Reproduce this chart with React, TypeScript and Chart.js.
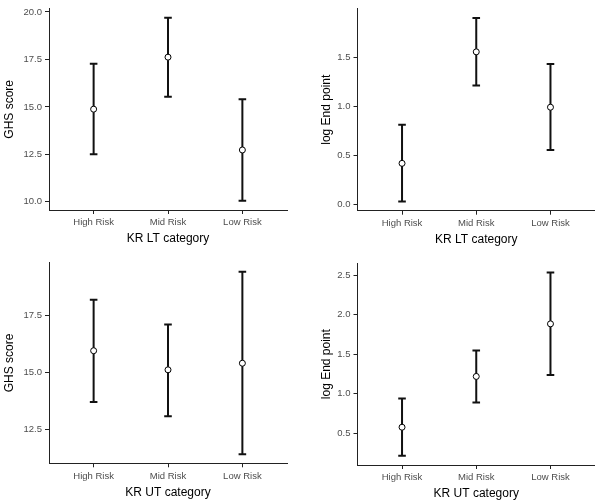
import React, { useEffect, useRef } from "react";
import { Chart, registerables } from "chart.js";

Chart.register(...registerables);

const categories = ["High Risk", "Mid Risk", "Low Risk"];

const ltGhsMean = [14.88, 17.62, 12.73];
const ltGhsLower = [12.5, 15.53, 10.05];
const ltGhsUpper = [17.27, 19.69, 15.4];
const ltGhsTicks = [10, 12.5, 15, 17.5, 20];

const ltEndMean = [0.418, 1.56, 0.993];
const ltEndLower = [0.027, 1.216, 0.555];
const ltEndUpper = [0.814, 1.908, 1.436];
const ltEndTicks = [0, 0.5, 1, 1.5];

const utGhsMean = [15.96, 15.12, 15.41];
const utGhsLower = [13.7, 13.08, 11.41];
const utGhsUpper = [18.2, 17.11, 19.43];
const utGhsTicks = [12.5, 15, 17.5];

const utEndMean = [0.576, 1.218, 1.883];
const utEndLower = [0.214, 0.89, 1.236];
const utEndUpper = [0.94, 1.545, 2.533];
const utEndTicks = [0.5, 1, 1.5, 2, 2.5];

const FONT = "'Liberation Sans', Arial, Helvetica, sans-serif";

type PanelProps = {
  mean: number[];
  lower: number[];
  upper: number[];
  ticks: number[];
  yTitle: string;
  xTitle: string;
  left: number;
  top: number;
  width: number;
  height: number;
  padLeft: number;
  padTop: number;
  padRight: number;
  yWidth: number;
  xHeight: number;
  xTitlePad: number;
};

function Panel(p: PanelProps) {
  const ref = useRef<HTMLCanvasElement | null>(null);
  useEffect(() => {
    if (!ref.current) return;
    const lo = Math.min(...p.lower);
    const hi = Math.max(...p.upper);
    const r = hi - lo;
    const yMin = lo - 0.05 * r;
    const yMax = hi + 0.05 * r;

    const errorBars = {
      id: "errorBars",
      beforeDatasetsDraw(chart: any) {
        const { ctx, scales } = chart;
        const x = scales.x;
        const y = scales.y;
        ctx.save();
        ctx.strokeStyle = "#111111";
        ctx.lineWidth = 2;
        ctx.lineCap = "butt";
        p.mean.forEach((_, i) => {
          const px = x.getPixelForValue(i + 1);
          const yl = y.getPixelForValue(p.lower[i]);
          const yu = y.getPixelForValue(p.upper[i]);
          ctx.beginPath();
          ctx.moveTo(px, yl);
          ctx.lineTo(px, yu);
          ctx.moveTo(px - 3.8, yl);
          ctx.lineTo(px + 3.8, yl);
          ctx.moveTo(px - 3.8, yu);
          ctx.lineTo(px + 3.8, yu);
          ctx.stroke();
        });
        ctx.restore();
      },
    };

    const chart = new Chart(ref.current, {
      type: "scatter",
      data: {
        datasets: [
          {
            data: p.mean.map((m, i) => ({ x: i + 1, y: m })),
            pointRadius: 3,
            pointBorderWidth: 1,
            pointBackgroundColor: "#ffffff",
            pointBorderColor: "#000000",
          },
        ],
      },
      options: {
        animation: false,
        responsive: false,
        devicePixelRatio: 1,
        layout: {
          padding: { left: p.padLeft, top: p.padTop, right: p.padRight, bottom: 0 },
        },
        plugins: {
          legend: { display: false },
          tooltip: { enabled: false },
        },
        scales: {
          x: {
            type: "linear",
            min: 0.4,
            max: 3.6,
            afterBuildTicks: (axis: any) => {
              axis.ticks = categories.map((_, i) => ({ value: i + 1 }));
            },
            afterFit: (s: any) => {
              s.height = p.xHeight;
            },
            ticks: {
              callback: (v: any) => categories[Number(v) - 1] ?? "",
              font: { family: FONT, size: 9.5 },
              color: "#4d4d4d",
              padding: 3,
              maxRotation: 0,
              autoSkip: false,
            },
            grid: {
              display: true,
              drawOnChartArea: false,
              drawTicks: true,
              tickLength: 4,
              color: "#222222",
              lineWidth: 1,
            },
            border: { display: true, color: "#222222", width: 1 },
            title: {
              display: true,
              text: p.xTitle,
              font: { family: FONT, size: 12 },
              color: "#000000",
              padding: { top: 0, bottom: p.xTitlePad },
            },
          },
          y: {
            type: "linear",
            min: yMin,
            max: yMax,
            afterBuildTicks: (axis: any) => {
              axis.ticks = p.ticks.map((v) => ({ value: v }));
            },
            afterFit: (s: any) => {
              s.width = p.yWidth;
            },
            ticks: {
              callback: (v: any) => Number(v).toFixed(1),
              font: { family: FONT, size: 9.5 },
              color: "#4d4d4d",
              padding: 3,
            },
            grid: {
              display: true,
              drawOnChartArea: false,
              drawTicks: true,
              tickLength: 4,
              color: "#222222",
              lineWidth: 1,
            },
            border: { display: true, color: "#222222", width: 1 },
            title: {
              display: true,
              text: p.yTitle,
              font: { family: FONT, size: 12 },
              color: "#000000",
              padding: { top: 2, bottom: 0 },
            },
          },
        },
      },
      plugins: [errorBars],
    } as any);
    return () => chart.destroy();
  }, []);

  return (
    <canvas
      ref={ref}
      width={p.width}
      height={p.height}
      style={{
        position: "absolute",
        left: p.left,
        top: p.top,
        width: p.width,
        height: p.height,
      }}
    />
  );
}

export default function App() {
  return (
    <div
      style={{
        position: "fixed",
        left: 0,
        top: 0,
        width: 595,
        height: 501,
        overflow: "hidden",
        background: "#ffffff",
      }}
    >
      <Panel
        mean={ltGhsMean}
        lower={ltGhsLower}
        upper={ltGhsUpper}
        ticks={ltGhsTicks}
        yTitle="GHS score"
        xTitle="KR LT category"
        left={0}
        top={0}
        width={295}
        height={250}
        padLeft={0}
        padTop={8}
        padRight={8}
        yWidth={49}
        xHeight={40}
        xTitlePad={4}
      />
      <Panel
        mean={ltEndMean}
        lower={ltEndLower}
        upper={ltEndUpper}
        ticks={ltEndTicks}
        yTitle="log End point"
        xTitle="KR LT category"
        left={295}
        top={0}
        width={305}
        height={250}
        padLeft={22}
        padTop={6.7}
        padRight={2.2}
        yWidth={40.5}
        xHeight={39.3}
        xTitlePad={3.5}
      />
      <Panel
        mean={utGhsMean}
        lower={utGhsLower}
        upper={utGhsUpper}
        ticks={utGhsTicks}
        yTitle="GHS score"
        xTitle="KR UT category"
        left={0}
        top={250}
        width={295}
        height={251}
        padLeft={0}
        padTop={12.7}
        padRight={8}
        yWidth={49}
        xHeight={37.7}
        xTitlePad={1.5}
      />
      <Panel
        mean={utEndMean}
        lower={utEndLower}
        upper={utEndUpper}
        ticks={utEndTicks}
        yTitle="log End point"
        xTitle="KR UT category"
        left={295}
        top={250}
        width={305}
        height={251}
        padLeft={22}
        padTop={13.3}
        padRight={2.2}
        yWidth={40.5}
        xHeight={36}
        xTitlePad={0}
      />
    </div>
  );
}
